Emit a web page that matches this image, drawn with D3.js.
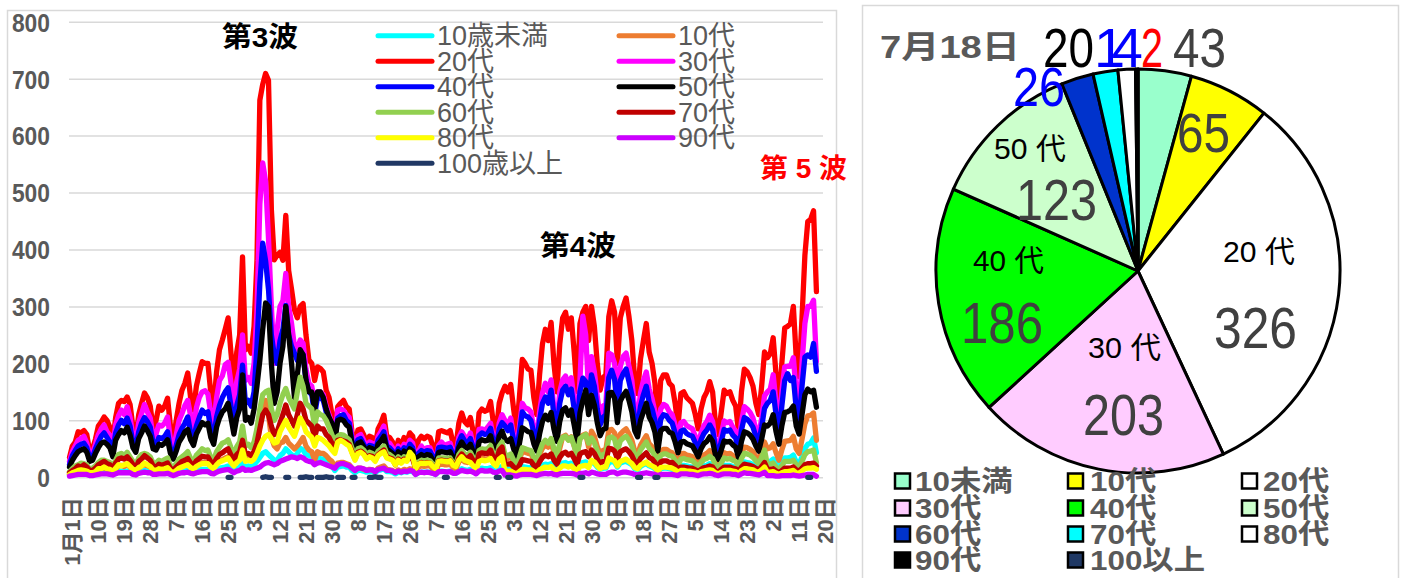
<!DOCTYPE html>
<html><head><meta charset="utf-8">
<script src="https://cdn.jsdelivr.net/npm/d3@7"></script>
<style>
html,body{margin:0;padding:0;background:#fff;}
svg{display:block;}
text{font-family:"Liberation Sans","Noto Sans CJK JP",sans-serif;}
</style></head>
<body>
<svg id="c" width="1403" height="578"></svg>
<script>
const _ = null;
// ---------- line chart data (Tokyo, by age group, 2020-11-01 .. 2021-07-18; axis to 07-20) ----------
const startDate = "2020-11-01";
const endDate = "2021-07-20";
const tickLabels = ["1月1日","10日","19日","28日","7日","16日","25日","3日","12日","21日","30日","8日","17日","26日","7日","16日","25日","3日","12日","21日","30日","9日","18日","27日","5日","14日","23日","2日","11日","20日"];
const yTicks = [0,100,200,300,400,500,600,700,800];
const seriesNames = ["10歳未満","10代","20代","30代","40代","50代","60代","70代","80代","90代","100歳以上"];
const seriesColors = ["#00ffff","#ed7d31","#ff0000","#ff00ff","#0000ff","#000000","#92d050","#c00000","#ffff00","#cc00ff","#203864"];

const under10 = [3,4,5,6,6,7,6,4,4,5,7,8,8,8,7,5,8,10,11,11,11,10,7,6,9,10,12,11,10,7,
7,9,8,9,10,6,5,7,9,11,12,13,10,8,11,13,14,14,14,10,9,13,16,17,18,20,15,12,15,18,25,
18,20,18,22,28,35,42,45,40,35,30,30,38,42,50,45,40,36,42,51,48,40,38,36,25,35,33,32,28,25,20,
12,18,19,20,18,18,12,8,12,12,11,9,10,10,8,12,13,15,10,10,9,6,9,8,10,9,11,10,
5,8,9,9,9,9,7,5,10,11,10,10,11,8,7,12,15,13,12,14,10,7,15,16,15,15,17,12,10,17,19,
14,14,15,11,7,13,19,18,17,17,13,10,16,21,23,22,24,18,14,21,25,26,23,25,20,14,24,26,27,22,
27,24,18,14,16,16,25,28,26,18,25,27,28,25,22,15,13,19,22,24,20,18,15,9,15,16,16,15,14,12,8,
21,21,20,19,18,15,12,17,20,21,24,21,13,11,16,21,21,21,19,18,11,21,27,26,25,22,18,15,22,31,
27,28,32,23,16,26,34,34,35,39,27,23,36,51,58,60,69,43];

const teens = [5,7,10,11,12,13,10,6,8,10,13,15,17,14,13,9,15,20,21,19,22,18,13,10,16,20,22,20,18,12,
13,16,15,16,18,12,8,13,17,20,21,24,18,15,21,24,26,26,26,19,16,24,29,31,34,36,28,21,29,33,40,
30,32,30,35,55,90,125,135,110,70,55,50,60,62,70,60,55,50,55,62,70,55,48,45,30,45,42,42,38,32,28,
18,25,26,26,24,22,16,12,16,16,14,12,14,13,10,16,18,20,14,13,12,9,13,10,14,12,15,14,
12,18,20,19,20,20,15,11,22,23,22,22,23,17,15,27,32,27,26,29,22,15,32,34,32,33,37,27,22,36,41,
35,33,36,26,18,31,46,44,42,41,31,24,40,51,57,53,60,44,33,51,71,74,66,71,55,38,68,74,76,53,
81,72,54,41,47,49,83,84,78,54,76,81,85,76,65,46,40,56,65,73,59,54,45,26,46,49,49,45,43,35,24,
41,42,39,38,36,31,24,34,39,42,47,42,26,21,32,43,41,42,38,35,22,42,53,52,49,45,36,31,45,62,
50,52,59,43,30,48,63,64,65,72,50,42,67,94,108,109,113,65];

const age20 = [35,55,62,80,78,82,75,45,50,67,90,97,106,100,88,62,105,130,135,133,141,128,88,70,110,130,148,140,125,85,
100,125,118,125,139,90,65,100,130,153,165,183,140,118,160,183,203,200,200,148,125,185,224,241,260,280,218,165,220,250,387,
224,230,218,265,380,662,690,709,697,470,382,390,395,381,460,363,330,294,280,300,305,250,206,200,170,194,191,185,153,140,111,
80,124,130,135,124,120,78,55,83,85,75,60,72,70,55,85,95,109,72,70,62,42,65,52,70,62,78,72,
42,65,72,68,72,70,55,40,80,82,80,78,82,60,55,95,113,98,92,105,80,52,113,120,116,118,133,95,80,130,148,
160,150,163,120,81,140,207,200,190,188,140,110,180,234,260,240,272,199,150,234,280,290,260,280,220,150,270,290,300,240,
300,265,200,153,175,180,282,310,290,200,280,300,315,282,240,170,147,208,240,270,220,200,165,95,170,180,180,165,160,130,90,
147,150,140,135,130,110,85,120,140,150,168,150,94,75,115,153,147,150,135,125,80,150,190,185,175,160,130,110,160,220,
210,217,245,180,125,200,262,265,270,300,210,177,280,390,449,453,468,326];

const age30 = [28,45,55,65,68,72,60,40,42,58,75,85,92,80,74,50,92,108,118,110,124,105,72,58,96,112,128,115,104,70,
76,92,90,95,106,66,50,74,100,112,126,135,108,86,122,140,150,152,146,112,92,140,170,178,198,202,166,120,168,190,250,
170,175,165,200,290,480,552,520,420,300,200,260,300,310,358,300,270,230,225,241,235,190,165,160,130,150,150,145,125,110,95,
72,118,120,118,110,105,70,48,72,75,65,52,62,60,48,72,80,90,62,60,52,36,55,45,58,52,65,60,
32,45,55,48,52,52,38,30,56,62,56,58,60,42,40,70,80,72,65,78,56,38,84,85,82,88,95,70,56,95,110,
100,92,104,72,50,88,130,122,120,115,85,70,115,148,165,150,171,120,95,150,171,178,160,175,135,95,170,283,250,150,
212,185,142,105,125,128,218,215,200,142,195,212,218,195,170,118,105,148,170,185,155,138,115,68,120,128,125,115,110,92,62,
96,98,91,88,85,72,55,78,91,98,109,98,61,49,75,99,96,98,88,81,52,98,124,120,114,104,85,72,104,143,
150,155,180,130,90,150,194,195,195,210,150,125,200,270,300,300,311,203];

const age40 = [22,38,47,55,58,60,52,34,35,50,62,72,78,70,62,44,78,92,100,94,104,90,60,52,80,95,105,98,88,60,
58,70,68,72,80,50,38,56,75,86,95,106,78,68,90,105,118,112,115,85,70,106,126,140,150,157,125,92,126,145,197,
130,135,125,150,230,340,411,380,330,250,215,200,240,260,302,250,230,218,205,218,215,170,150,145,110,140,140,135,115,100,85,
68,104,108,110,100,95,62,44,66,68,58,48,56,55,44,65,72,80,55,52,46,33,50,40,52,46,58,52,
27,42,47,44,47,46,36,26,52,53,52,51,53,39,36,62,73,64,60,68,52,34,73,78,75,77,86,62,52,85,96,
90,82,92,65,45,78,115,108,106,100,78,60,100,130,141,130,153,108,85,130,153,160,145,155,120,85,150,174,168,130,
180,160,120,92,105,110,175,188,172,120,170,182,190,168,145,100,88,125,145,160,132,120,100,58,102,110,108,100,95,78,55,
81,83,77,74,72,61,47,66,77,83,92,83,52,41,63,84,81,83,74,69,44,83,105,102,96,88,72,61,88,121,
130,135,150,110,78,125,170,182,170,175,120,100,160,211,215,211,235,186];

const age50 = [18,30,38,45,48,50,44,28,30,42,52,60,62,58,52,36,65,75,82,78,88,74,52,44,68,78,90,82,72,50,
48,58,56,60,66,42,32,46,62,70,80,84,66,56,76,86,96,92,95,70,58,88,104,115,120,130,104,76,105,120,180,
100,105,95,120,160,205,260,306,300,200,130,150,200,230,300,250,200,140,180,224,215,170,150,150,120,150,150,140,120,105,95,
62,100,102,100,92,88,58,40,60,62,54,44,52,50,40,58,64,72,50,46,42,30,45,36,46,42,50,46,
23,36,40,37,40,39,30,22,44,45,44,43,45,33,30,52,62,54,51,58,44,29,62,66,64,65,73,52,44,72,81,
67,63,68,50,34,59,87,84,80,79,59,46,76,98,109,101,114,84,63,98,118,122,109,118,92,63,113,135,153,110,
144,127,96,73,84,86,148,149,139,96,134,144,151,135,115,82,71,100,115,130,106,96,79,46,82,86,86,79,77,62,43,
62,63,59,57,55,46,36,50,59,63,71,63,39,32,48,64,62,63,57,53,34,63,80,78,74,67,55,46,67,92,
90,95,110,80,58,90,114,115,118,125,90,76,110,145,155,150,153,123];

const age60 = [10,15,20,22,25,24,22,14,16,20,26,30,30,28,26,18,30,40,42,38,44,36,28,22,34,40,42,40,36,25,
25,30,28,31,34,21,17,24,32,36,40,45,33,28,39,44,50,47,48,35,30,45,53,60,62,66,52,40,54,62,90,
55,58,52,62,85,120,145,150,153,120,100,110,130,145,156,140,130,120,150,176,160,130,125,120,90,115,110,108,100,88,75,
60,72,75,74,70,66,50,38,50,52,48,40,44,42,35,46,50,55,42,40,36,26,36,30,36,34,40,36,
18,27,30,29,30,29,23,17,34,34,34,33,34,25,23,40,47,41,39,44,34,22,47,50,49,50,56,40,34,55,62,
40,38,41,30,20,35,52,50,48,47,35,28,45,59,65,60,68,50,38,59,70,72,65,70,55,38,68,72,75,60,
69,61,46,35,40,41,69,71,67,46,64,69,72,65,55,39,34,48,55,62,51,46,38,22,39,41,41,38,37,30,21,
32,33,31,30,29,24,19,26,31,33,37,33,21,17,25,34,32,33,30,28,18,33,42,41,39,35,29,24,35,48,
22,23,25,18,13,20,28,28,28,30,22,18,28,40,45,46,48,26];

const age70 = [8,12,15,20,18,22,18,12,12,16,22,25,28,24,22,15,25,32,34,32,36,30,22,17,28,32,38,34,30,20,
18,23,21,23,25,16,12,18,23,28,30,33,25,21,29,33,37,36,36,27,23,33,40,43,47,50,39,30,40,45,65,
40,42,38,45,60,85,110,118,110,90,75,80,95,110,127,110,100,90,110,130,120,100,95,90,70,90,85,85,75,70,60,
50,65,66,64,62,58,44,32,44,46,42,35,38,37,30,40,44,48,36,34,32,22,32,26,32,30,35,32,
15,23,26,24,26,25,20,14,29,30,29,28,30,22,20,34,41,35,33,38,29,19,41,43,42,42,48,34,29,47,53,
24,23,24,18,12,21,31,30,29,28,21,17,27,35,39,36,41,30,23,35,42,44,39,42,33,23,41,44,45,36,
48,42,32,24,28,29,51,50,46,32,45,48,50,45,38,27,24,33,38,43,35,32,26,15,27,29,29,26,26,21,14,
18,18,17,16,16,13,10,14,17,18,20,18,11,9,14,18,18,18,16,15,10,18,23,22,21,19,16,13,19,26,
14,14,15,11,8,12,16,16,16,18,13,11,16,22,24,24,25,20];

const age80 = [5,8,10,12,13,12,11,8,8,10,15,15,18,15,14,10,16,22,20,22,24,19,14,12,17,20,25,22,19,13,
12,15,14,15,17,11,8,12,16,18,20,22,17,14,19,22,24,24,24,18,15,22,27,29,31,34,26,20,26,30,48,
28,30,28,32,42,55,65,72,75,68,60,62,80,90,100,88,80,72,88,104,95,80,75,70,55,70,68,65,60,55,48,
42,62,65,62,58,55,42,30,42,44,40,32,36,34,28,38,42,45,34,32,30,22,30,25,30,28,44,38,
15,23,25,24,25,25,19,14,28,29,28,27,29,21,19,30,36,30,28,26,20,14,28,30,29,30,33,24,20,32,36,
11,11,11,8,6,10,14,14,13,13,10,8,13,16,18,17,19,14,11,16,20,20,18,20,15,11,19,20,21,17,
30,27,20,15,18,18,34,31,29,20,28,30,32,28,24,17,15,21,24,27,22,20,17,10,17,18,18,17,16,13,9,
12,12,11,11,10,9,7,10,11,12,13,12,8,6,9,12,12,12,11,10,6,12,15,15,14,13,10,9,13,18,
9,9,10,7,5,8,10,10,11,12,8,7,11,15,16,16,17,14];

const age90 = [2,3,4,5,5,5,5,3,3,4,5,6,6,6,5,4,6,8,8,8,8,8,5,4,7,8,9,8,8,5,
5,6,6,6,7,5,3,5,7,8,8,9,7,6,8,9,10,10,10,7,6,9,11,12,13,14,11,8,11,12,16,
12,13,12,14,16,18,22,25,26,24,22,24,28,30,32,34,36,35,33,36,34,30,28,27,22,25,26,24,22,20,18,
16,22,24,24,22,20,16,12,16,16,15,12,13,13,10,14,15,16,12,12,11,8,11,9,11,10,12,11,
5,8,9,8,9,8,7,5,10,10,10,9,10,7,7,10,12,11,10,11,9,6,11,12,11,11,12,9,8,11,12,
4,4,4,3,2,4,5,5,5,5,4,3,5,6,7,6,7,5,4,6,7,7,7,7,6,4,7,7,8,6,
9,8,6,5,5,5,8,9,9,6,8,9,9,8,7,5,4,6,7,8,7,6,5,3,5,5,5,5,5,4,3,
6,6,6,5,5,4,3,5,6,6,7,6,4,3,5,6,6,6,5,5,3,6,8,7,7,6,5,4,6,9,
3,3,3,2,2,3,3,3,3,4,3,2,3,4,5,5,5,2];

const age100 = [_,_,_,_,_,_,_,_,_,_, _,_,_,_,_,_,_,_,_,_, _,_,_,_,_,_,_,_,_,_,
_,_,_,_,_,_,_,_,_,_, _,_,_,_,_,_,_,_,_,_, _,_,_,_,_,0,0,_,_,_,
_,_,_,_,_,_,_,0,1,0, 0,_,_,_,_,0,0,_,_,_, 0,0,1,0,0,_,0,0,0,1,
0,0,_,0,0,0,_,_,0,0, _,_,_,_,0,0,1,0,0,_, _,_,_,_,_,_,_,_,_,_,
_,_,_,_,_,_,_,_,_,_, 0,0,_,_,_,_,_,_,_,_, _,_,_,_,_,_,_,_,0,0,
_,_,0,0,_,_,_,_,_,_, _,_,_,_,_,_,_,_,_,_, _,_,_,_,_,_,_,0,0,_,
_,_,_,_,_,_,_,_,_,_, _,_,_,_,_,_,_,0,0,_, _,_,_,0,0,_,_,_,_,_,
_,_,_,_,_,_,_,_,_,_, _,_,_,_,_,_,_,_,_,_, _,_,_,_,_,_,_,_,_,_,
_,_,_,_,_,_,_,_,_,_, _,_,_,_,_,_,0,0,_,_];

const allSeries = [under10, teens, age20, age30, age40, age50, age60, age70, age80, age90, age100];

// ---------- pie data (7月18日) ----------
const pieDate = "7月18日";
const pieLabels = ["10未満","10代","20代","30代","40代","50代","60代","70代","80代","90代","100以上"];
const pieValues = [43,65,326,203,186,123,26,20,14,2,0];
const pieColors = ["#99ffcc","#ffff00","#ffffff","#ffccff","#00ff00","#ccffcc","#0033cc","#00ffff","#ffffff","#000000","#1f3864"];

// ================= drawing =================
const svg = d3.select("#c");
const FONT = '"Liberation Sans","Noto Sans CJK JP",sans-serif';

// panel borders
svg.append("rect").attr("x",7.5).attr("y",10.5).attr("width",829).attr("height",640)
  .attr("fill","none").attr("stroke","#d9d9d9").attr("stroke-width",1.5);
svg.append("rect").attr("x",862.5).attr("y",5.5).attr("width",536).attr("height",640)
  .attr("fill","none").attr("stroke","#d9d9d9").attr("stroke-width",1.5);

const parse = d3.utcParse("%Y-%m-%d");
const categories = d3.utcDay.range(parse(startDate), d3.utcDay.offset(parse(endDate), 1));
const x = d3.scaleUtc().domain([categories[0], categories[categories.length - 1]]).range([69.5, 822.2]);
const y = d3.scaleLinear().domain([0, 800]).range([477.3, 21.7]);

// y axis with grid
const yAxis = svg.append("g").attr("transform", "translate(69,0)")
  .call(d3.axisLeft(y).tickValues(yTicks).tickSize(-754).tickPadding(19));
yAxis.select(".domain").remove();
yAxis.selectAll("line").attr("stroke", "#d9d9d9").attr("stroke-width", 1.5);
yAxis.selectAll("text").attr("font-size", 26).attr("font-weight", "bold").attr("fill", "#595959")
  .attr("font-family", FONT).attr("dy", "0.36em")
  .attr("textLength", d => String(d).length * 12.7).attr("lengthAdjust", "spacingAndGlyphs");

// x axis
const tickDates = categories.filter((d, i) => i % 9 === 0);
const xAxis = svg.append("g").attr("transform", `translate(0,${y(0)})`)
  .call(d3.axisBottom(x).tickValues(tickDates).tickSize(0).tickFormat((d, i) => tickLabels[i]));
xAxis.select(".domain").remove();
xAxis.selectAll("text")
  .attr("transform", "rotate(-90)")
  .attr("x", -20).attr("y", 2.5).attr("dy", "0.36em")
  .attr("text-anchor", "end")
  .attr("font-size", 22).attr("font-weight", "bold").attr("fill", "#595959").attr("font-family", FONT);

// lines
const line = d3.line().defined(v => v != null)
  .x((v, i) => x(categories[i])).y(v => y(v));
svg.append("g").selectAll("path").data(allSeries).join("path")
  .attr("d", line).attr("fill", "none")
  .attr("stroke", (d, i) => seriesColors[i])
  .attr("stroke-width", 5.3).attr("stroke-linejoin", "round").attr("stroke-linecap", "round");

// legend of line chart
const lg = svg.append("g");
seriesNames.forEach((name, i) => {
  const col = i % 2, row = Math.floor(i / 2);
  const lx = col === 0 ? 378 : 619;
  const ly = 35.7 + row * 25.5;
  lg.append("line").attr("x1", lx).attr("x2", lx + 54).attr("y1", ly).attr("y2", ly)
    .attr("stroke", seriesColors[i]).attr("stroke-width", 5).attr("stroke-linecap", "round");
  lg.append("text").attr("x", lx + 59).attr("y", ly).attr("dy", "0.36em")
    .attr("font-size", 27).attr("fill", "#595959").attr("font-family", FONT).text(name);
});

// wave annotations
function note(txt, cx, cy, size, color, w) {
  svg.append("text").attr("x", cx).attr("y", cy).attr("dy", "0.36em").attr("text-anchor", "middle")
    .attr("font-size", size).attr("font-weight", "bold").attr("fill", color).attr("font-family", FONT)
    .attr("textLength", w).attr("lengthAdjust", "spacingAndGlyphs").text(txt);
}
note("第3波", 260, 37, 28, "#000", 76);
note("第4波", 578, 246, 28, "#000", 76);
note("第 5 波", 803.5, 168.5, 27, "#ff0000", 87);

// ---------- pie ----------
const pcx = 1138, pcy = 271, R = 202;
const pie = d3.pie().sort(null).value(d => d)(pieValues);
const arc = d3.arc().innerRadius(0).outerRadius(R);
const pg = svg.append("g").attr("transform", `translate(${pcx},${pcy})`);
pg.selectAll("path").data(pie).join("path")
  .attr("d", arc).attr("fill", (d, i) => pieColors[i])
  .attr("stroke", "#000").attr("stroke-width", 3).attr("stroke-linejoin", "round");

function ptext(txt, dx, dy, size, color, w, weight, adj) {
  const t = pg.append("text").attr("x", dx).attr("y", dy).attr("dy", "0.36em").attr("text-anchor", "middle")
    .attr("font-size", size).attr("fill", color).attr("font-family", FONT)
    .attr("font-weight", weight || "normal").text(txt);
  if (w) t.attr("textLength", w).attr("lengthAdjust", adj || "spacingAndGlyphs");
  return t;
}
// inside labels: category name + value
ptext("20 代", 121, -20, 30, "#000", 72);
ptext(String(pieValues[2]), 117.5, 56.5, 58, "#404040", 83);
ptext("30 代", -13.5, 76, 30, "#000", 73);
ptext(String(pieValues[3]), -14.5, 143, 58, "#404040", 81);
ptext("40 代", -129.5, -11, 30, "#000", 71);
ptext(String(pieValues[4]), -136, 51, 58, "#404040", 82);
ptext("50 代", -108, -122.5, 30, "#000", 72);
ptext(String(pieValues[5]), -81.5, -72, 58, "#404040", 81);
ptext(String(pieValues[1]), 65.5, -139, 56, "#404040", 53);
// outside labels of small slices
ptext(String(pieValues[6]), -99, -185, 56, "#0000ff", 52);
ptext(String(pieValues[7]), -69.5, -224, 56, "#000", 51);
ptext(String(pieValues[8]), -19.5, -224, 56, "#0000ff", 49, "normal", "spacing");
ptext(String(pieValues[9]), 14, -224, 56, "#ff0000", 22);
ptext(String(pieValues[0]), 61.5, -224, 56, "#404040", 53);

// date title
svg.append("text").attr("x", 880).attr("y", 46).attr("dy", "0.36em")
  .attr("font-size", 32).attr("font-weight", "bold").attr("fill", "#595959").attr("font-family", FONT)
  .attr("textLength", 140).attr("lengthAdjust", "spacingAndGlyphs").text(pieDate);

// pie legend
const plg = svg.append("g");
const colMx = [895, 1068, 1242], colTx = [915, 1090, 1263], rowY = [481, 508, 534, 560];
pieLabels.forEach((name, i) => {
  const c = i % 3, r = Math.floor(i / 3);
  plg.append("rect").attr("x", colMx[c]).attr("y", rowY[r] - 7.5).attr("width", 15).attr("height", 15)
    .attr("fill", pieColors[i]).attr("stroke", "#000").attr("stroke-width", 2.5);
  const t = plg.append("text").attr("x", colTx[c]).attr("y", rowY[r]).attr("dy", "0.36em")
    .attr("font-size", 28).attr("font-weight", "bold").attr("fill", "#595959").attr("font-family", FONT)
    .text(name);
  const L = t.node().getComputedTextLength();
  t.attr("textLength", L * 1.12).attr("lengthAdjust", "spacingAndGlyphs");
});
</script>
</body></html>
